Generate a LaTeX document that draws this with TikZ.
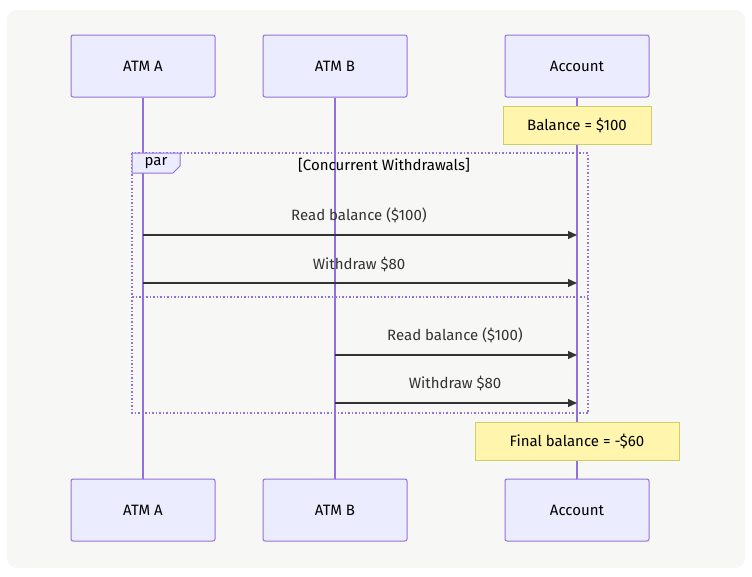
\documentclass[tikz,border=0pt]{standalone}
\usepackage{fontspec}
\setmainfont{Fira Sans}
\usetikzlibrary{arrows.meta}
\definecolor{bgc}{HTML}{F7F8F6}
\definecolor{actfill}{HTML}{ECECFF}
\definecolor{actline}{HTML}{9370DB}
\definecolor{notefill}{HTML}{FFF5AD}
\definecolor{noteline}{HTML}{CFCF6A}
\definecolor{msg}{HTML}{333333}
\tikzset{
  txt/.style={font=\fontsize{15}{17}\selectfont},
  actor/.style={txt, draw=actline, fill=actfill, line width=1pt, rounded corners=2pt, minimum width=144pt, minimum height=62pt, inner sep=0pt},
  notebox/.style={txt, draw=noteline, fill=notefill, line width=1pt, inner sep=0pt, minimum height=38pt},
  life/.style={draw=actline, line width=1.5pt},
  msgline/.style={draw=msg, line width=1.2pt, -{Triangle[length=9pt,width=8pt]}},
  msglabel/.style={txt, text=msg, inner sep=0pt},
  frame/.style={draw=actline, line width=1.5pt, dotted},
}
\begin{document}
\begin{tikzpicture}[x=1pt,y=-1pt]
\useasboundingbox (0,0) rectangle (752,576);
\fill[white] (0,0) rectangle (752,576);
\fill[bgc, rounded corners=10pt] (7,10) rectangle (745,568);
% actors
\node[actor] (atA) at (143,66) {ATM A};
\node[actor] (atB) at (335,66) {ATM B};
\node[actor] (acc) at (577,66) {Account};
\node[actor] (abA) at (143,510) {ATM A};
\node[actor] (abB) at (335,510) {ATM B};
\node[actor] (abC) at (577,510) {Account};
% lifelines
\draw[life] (atA.south) -- (abA.north);
\draw[life] (atB.south) -- (abB.north);
\draw[life] (acc.south) -- (abC.north);
% notes
\node[notebox, minimum width=148pt] (n1) at (577,125) {Balance = \$100};
\node[notebox, minimum width=204pt] (n2) at (577,441) {Final balance = -\$60};
% par frame
\draw[frame] (132,153) rectangle (588,413);
\draw[frame] (132,297) -- (588,297);
\draw[draw=actline, fill=actfill, line width=1pt] (132,153) -- (180,153) -- (180,166) -- (173,173) -- (132,173) -- cycle;
\node[txt, inner sep=0pt] (parl) at (156,163) {par};
\node[txt, inner sep=0pt] (title) at (384,165) {[Concurrent Withdrawals]};
% messages
\coordinate (a1) at (143,235); \coordinate (c1) at (577,235);
\coordinate (a2) at (143,283); \coordinate (c2) at (577,283);
\coordinate (b3) at (335,355); \coordinate (c3) at (577,355);
\coordinate (b4) at (335,403); \coordinate (c4) at (577,403);
\draw[msgline] (a1) -- (c1);
\draw[msgline] (a2) -- (c2);
\draw[msgline] (b3) -- (c3);
\draw[msgline] (b4) -- (c4);
\node[msglabel] (l1) at (359,215) {Read balance (\$100)};
\node[msglabel] (l2) at (359,264) {Withdraw \$80};
\node[msglabel] (l3) at (455,335) {Read balance (\$100)};
\node[msglabel] (l4) at (455,383) {Withdraw \$80};
\end{tikzpicture}
\end{document}
